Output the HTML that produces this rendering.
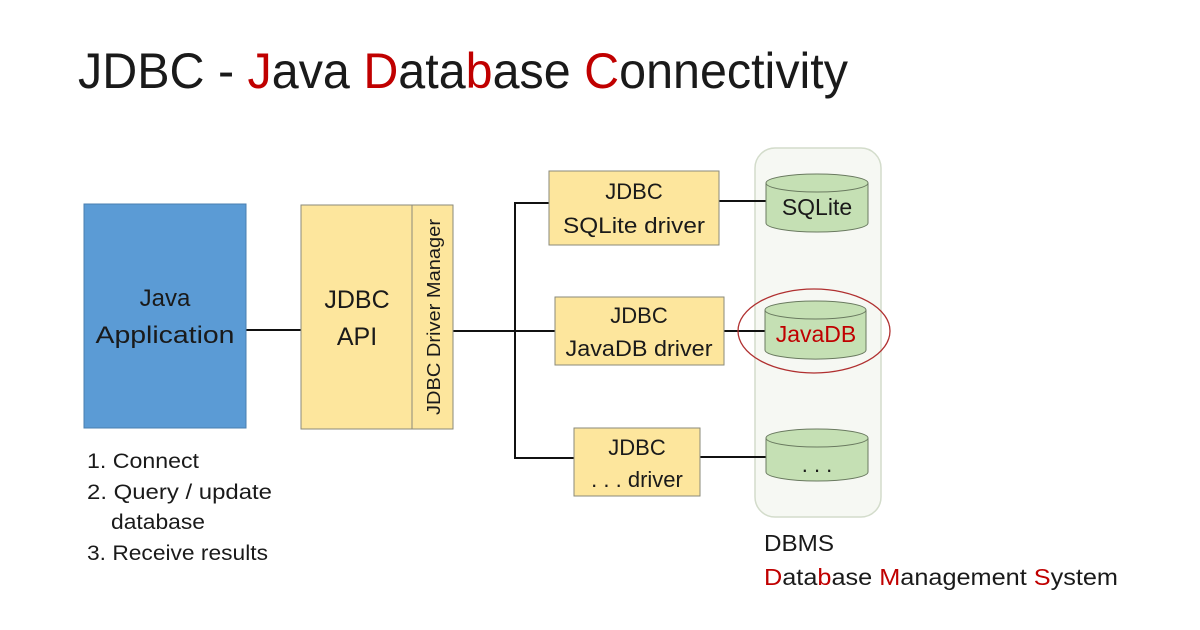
<!DOCTYPE html>
<html><head><meta charset="utf-8"><style>
html,body{margin:0;padding:0;background:#fff;}
svg{display:block;}
text{font-family:"Liberation Sans",sans-serif;fill:#1a1a1a;}
.r{fill:#c00000;}
</style></head><body>
<svg width="1200" height="630" viewBox="0 0 1200 630" xmlns="http://www.w3.org/2000/svg">
<rect width="1200" height="630" fill="#fff"/>
<text x="78" y="88" font-size="50" textLength="770" lengthAdjust="spacingAndGlyphs">JDBC - <tspan class="r">J</tspan>ava <tspan class="r">D</tspan>ata<tspan class="r">b</tspan>ase <tspan class="r">C</tspan>onnectivity</text>

<rect x="755" y="148" width="126" height="369" rx="20" fill="#f6f8f3" stroke="#d3dccb" stroke-width="1.5"/>

<g stroke="#111" stroke-width="2" fill="none">
<line x1="246" y1="330" x2="301" y2="330"/>
<line x1="453" y1="331" x2="555" y2="331"/>
<polyline points="549,203 515,203 515,458 574,458"/>
<line x1="719" y1="201" x2="766" y2="201"/>
<line x1="724" y1="331" x2="766" y2="331"/>
<line x1="700" y1="457" x2="766" y2="457"/>
</g>

<rect x="84" y="204" width="162" height="224" fill="#5b9bd5" stroke="#4a7fb0" stroke-width="1"/>
<text x="165" y="306" font-size="24" text-anchor="middle">Java</text>
<text x="165" y="343" font-size="24" text-anchor="middle" textLength="139" lengthAdjust="spacingAndGlyphs">Application</text>

<rect x="301" y="205" width="152" height="224" fill="#fde69d" stroke="#8a8a7a" stroke-width="1"/>
<line x1="412" y1="205" x2="412" y2="429" stroke="#8a8a7a" stroke-width="1"/>
<text x="357" y="308" font-size="25" text-anchor="middle">JDBC</text>
<text x="357" y="345" font-size="25" text-anchor="middle">API</text>
<text transform="translate(440,317) rotate(-90)" font-size="18" text-anchor="middle" textLength="196" lengthAdjust="spacingAndGlyphs">JDBC Driver Manager</text>

<g fill="#fde69d" stroke="#8a8a7a" stroke-width="1">
<rect x="549" y="171" width="170" height="74"/>
<rect x="555" y="297" width="169" height="68"/>
<rect x="574" y="428" width="126" height="68"/>
</g>
<g font-size="22" text-anchor="middle">
<text x="634" y="199">JDBC</text>
<text x="634" y="233" textLength="142" lengthAdjust="spacingAndGlyphs">SQLite driver</text>
<text x="639" y="323">JDBC</text>
<text x="639" y="356" textLength="147" lengthAdjust="spacingAndGlyphs">JavaDB driver</text>
<text x="637" y="455">JDBC</text>
<text x="637" y="487">. . . driver</text>
</g>

<g fill="#c5e0b4" stroke="#6a7a60" stroke-width="1">
<path d="M766,183 v40 a51,9 0 0 0 102,0 v-40"/>
<ellipse cx="817" cy="183" rx="51" ry="9"/>
<path d="M765,310 v40 a50,9 0 0 0 101,0 v-40"/>
<ellipse cx="815.5" cy="310" rx="50.5" ry="9"/>
<path d="M766,438 v34 a51,9 0 0 0 102,0 v-34"/>
<ellipse cx="817" cy="438" rx="51" ry="9"/>
</g>
<text x="817" y="215" font-size="23" text-anchor="middle">SQLite</text>
<text x="816" y="342" font-size="23" text-anchor="middle" class="r">JavaDB</text>
<text x="817" y="472" font-size="22" text-anchor="middle">. . .</text>
<ellipse cx="814" cy="331" rx="76" ry="42" fill="none" stroke="#b03030" stroke-width="1.3"/>

<g font-size="21">
<text x="87" y="468" textLength="112" lengthAdjust="spacingAndGlyphs">1. Connect</text>
<text x="87" y="499" textLength="185" lengthAdjust="spacingAndGlyphs">2. Query / update</text>
<text x="111" y="529" textLength="94" lengthAdjust="spacingAndGlyphs">database</text>
<text x="87" y="560" textLength="181" lengthAdjust="spacingAndGlyphs">3. Receive results</text>
</g>

<g font-size="23">
<text x="764" y="551" textLength="70" lengthAdjust="spacingAndGlyphs">DBMS</text>
<text x="764" y="585" textLength="354" lengthAdjust="spacingAndGlyphs"><tspan class="r">D</tspan>ata<tspan class="r">b</tspan>ase <tspan class="r">M</tspan>anagement <tspan class="r">S</tspan>ystem</text>
</g>
</svg>
</body></html>
